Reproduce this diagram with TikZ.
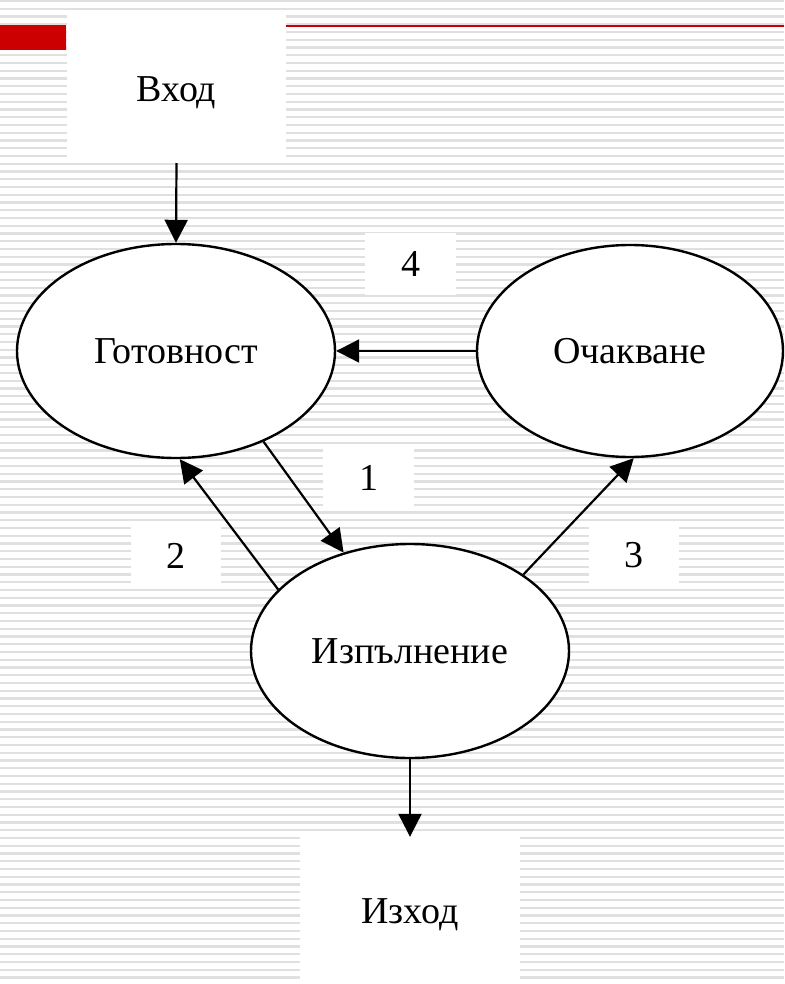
\documentclass[tikz,border=0pt]{standalone}
\usepackage{fontspec}
\setmainfont{Liberation Serif}
\usetikzlibrary{shapes.geometric,arrows.meta}
\definecolor{stripegray}{RGB}{224,224,224}
\definecolor{slidered}{RGB}{204,0,0}
\begin{document}
\begin{tikzpicture}[x=1pt,y=-1pt,
  state/.style={ellipse, draw, line width=2.4pt, fill=white, inner sep=0pt,
    minimum width=318pt, minimum height=214pt, font=\fontsize{38}{45}\selectfont},
  panel/.style={fill=white, inner sep=0pt, text depth=0pt, font=\fontsize{38}{45}\selectfont},
  flow/.style={line width=2.2pt, -{Triangle[length=23pt,width=23pt]}},
  stripe/.style={stripegray, line width=2.3pt}]
\useasboundingbox (0,0) rectangle (784,984);
\fill[white] (0,0) rectangle (784,984);
% ruled background
\foreach \k in {0,...,126}
  \draw[stripe] (0,{1+7.75*\k}) -- (784,{1+7.75*\k});
% red header marks
\fill[slidered] (0,25) rectangle (66,50);
\draw[slidered, line width=2pt] (286,26) -- (784,26);

% input / output panels
\node[panel, minimum width=219pt, minimum height=148pt] (vhod) at (176.5,89) {Вход};
\node[panel, minimum width=220pt, minimum height=148pt] (izhod) at (410,911) {Изход};

% transition number panels
\node[panel, minimum width=91pt, minimum height=62pt] (t4) at (410.5,264) {4};
\node[panel, minimum width=91pt, minimum height=65pt] (t1) at (368.5,477.5) {1};
\node[panel, minimum width=90pt, minimum height=62pt] (t2) at (176,556) {2};
\node[panel, minimum width=90pt, minimum height=64pt] (t3) at (634,555) {3};

% process states
\node[state] (gotov) at (176,351) {Готовност};
\node[state, minimum width=306pt, minimum height=212pt] (ochak) at (630,351) {Очакване};
\node[state] (izp) at (410,651) {Изпълнение};

% transitions
\draw[flow] (vhod.south) -- (gotov.north);
\draw[flow] (ochak.west) -- (gotov.east);
\draw[flow] (gotov.-46) -- (izp.124);
\draw[flow] (izp.155) -- (gotov.-88);
\draw[flow] (izp.34) -- (ochak.-88);
\draw[flow] (izp.south) -- (izhod.north);
\end{tikzpicture}
\end{document}
